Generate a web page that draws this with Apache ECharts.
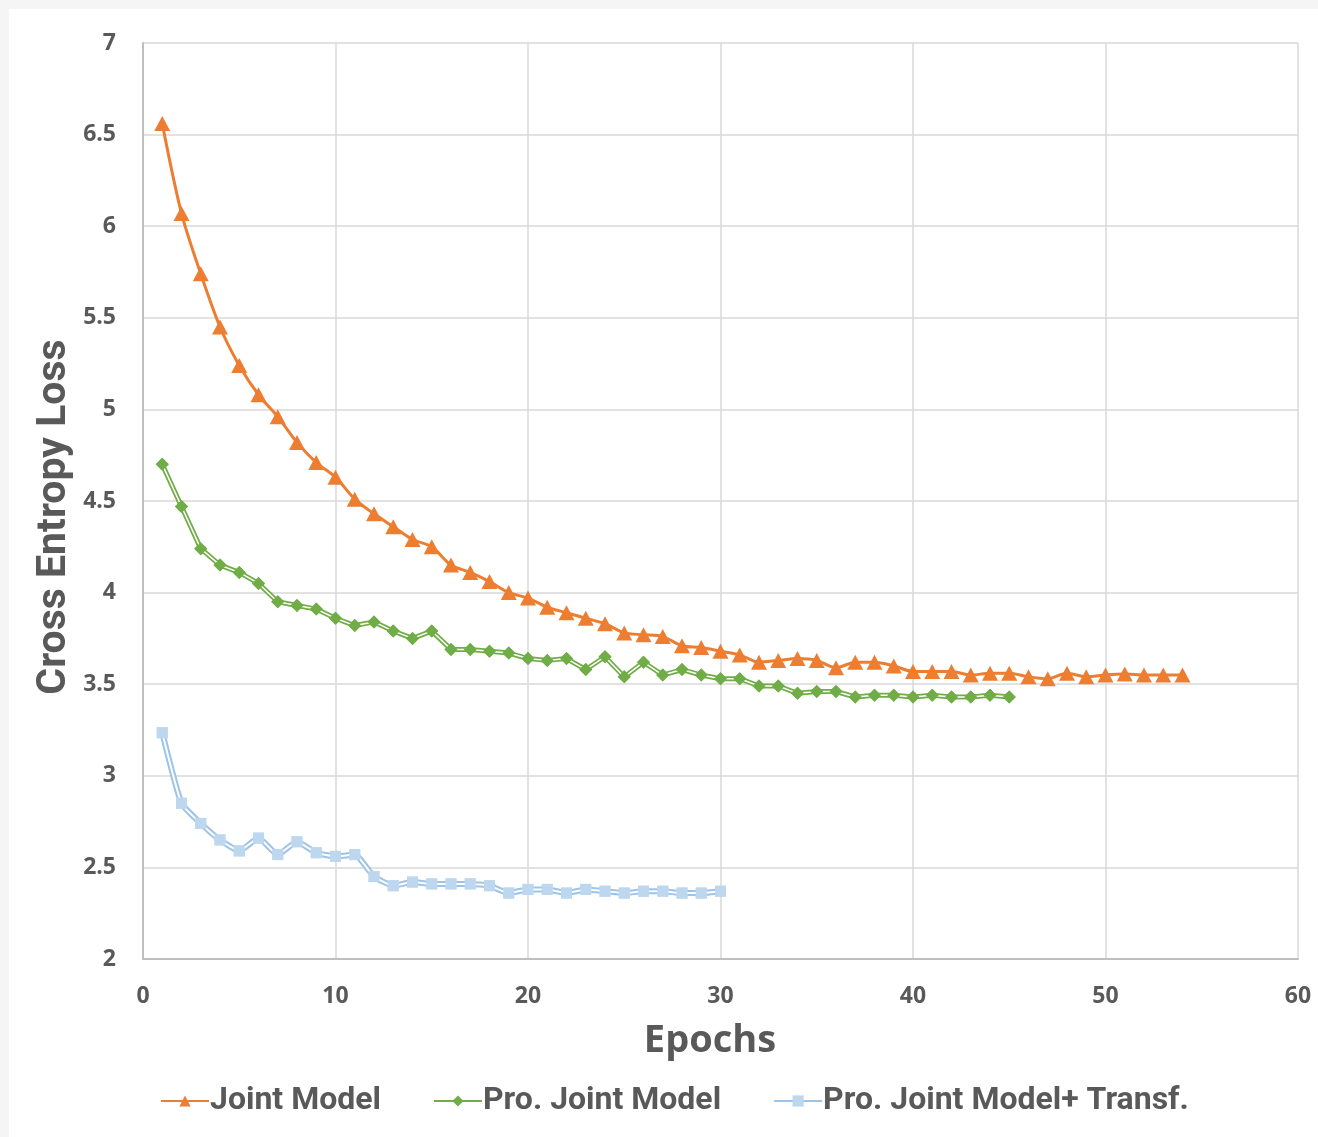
<!DOCTYPE html>
<html>
<head>
<meta charset="utf-8">
<script src="https://cdn.jsdelivr.net/npm/echarts@6/dist/echarts.min.js"></script>
<style>
html,body{margin:0;padding:0;background:#ffffff;}
#chart{width:1318px;height:1137px;}
</style>
</head>
<body>
<div id="chart"></div>
<script>
// ---- data ----
const jointEpochs = [1,2,3,4,5,6,7,8,9,10,11,12,13,14,15,16,17,18,19,20,21,22,23,24,25,26,27,28,29,30,31,32,33,34,35,36,37,38,39,40,41,42,43,44,45,46,47,48,49,50,51,52,53,54];
const jointLoss = [6.56,6.07,5.74,5.45,5.24,5.08,4.96,4.82,4.71,4.63,4.51,4.43,4.36,4.29,4.25,4.15,4.11,4.06,4.00,3.97,3.92,3.89,3.86,3.83,3.78,3.77,3.76,3.71,3.70,3.68,3.66,3.62,3.63,3.64,3.63,3.59,3.62,3.62,3.60,3.57,3.57,3.57,3.55,3.56,3.56,3.54,3.53,3.56,3.54,3.55,3.555,3.55,3.55,3.55];

const proEpochs = [1,2,3,4,5,6,7,8,9,10,11,12,13,14,15,16,17,18,19,20,21,22,23,24,25,26,27,28,29,30,31,32,33,34,35,36,37,38,39,40,41,42,43,44,45];
const proLoss = [4.70,4.47,4.24,4.15,4.11,4.05,3.95,3.93,3.91,3.86,3.82,3.84,3.79,3.75,3.79,3.69,3.69,3.68,3.67,3.64,3.63,3.64,3.58,3.65,3.54,3.62,3.55,3.58,3.55,3.53,3.53,3.49,3.49,3.45,3.46,3.46,3.43,3.44,3.44,3.43,3.44,3.43,3.43,3.44,3.43];

const transEpochs = [1,2,3,4,5,6,7,8,9,10,11,12,13,14,15,16,17,18,19,20,21,22,23,24,25,26,27,28,29,30];
const transLoss = [3.235,2.85,2.74,2.65,2.59,2.66,2.57,2.64,2.58,2.56,2.57,2.45,2.40,2.42,2.41,2.41,2.41,2.40,2.36,2.38,2.38,2.36,2.38,2.37,2.36,2.37,2.37,2.36,2.36,2.37];

const seriesNames = ['Joint Model','Pro. Joint Model','Pro. Joint Model+ Transf.'];
const xTicks = {min:0, max:60, interval:10};
const yTicks = {min:2, max:7, interval:0.5};

function pairs(xs, ys){ return xs.map((x,i)=>[x, ys[i]]); }

const ORANGE = '#ED7D31', GREEN = '#70AD47', BLUE_LINE = '#9DC3E6', BLUE_MARK = '#BDD7EE';
const TXT = '#595959';
const tickFont = '"Open Sans", sans-serif';
const narrowFont = 'Roboto, "Liberation Sans", sans-serif';

const chart = echarts.init(document.getElementById('chart'), null, {renderer:'canvas'});
chart.setOption({
  backgroundColor: '#ffffff',
  animation: false,
  grid: {left:143, right:20, top:43, bottom:178, containLabel:false},
  xAxis: {
    type:'value', min:xTicks.min, max:xTicks.max, interval:xTicks.interval,
    axisLine:{show:true, lineStyle:{color:'#bfbfbf', width:2}},
    axisTick:{show:false},
    axisLabel:{color:TXT, fontFamily:tickFont, fontWeight:'bold', fontSize:23, margin:26},
    splitLine:{show:true, lineStyle:{color:'#d9d9d9', width:1.5}}
  },
  yAxis: {
    type:'value', min:yTicks.min, max:yTicks.max, interval:yTicks.interval,
    axisLine:{show:true, lineStyle:{color:'#bfbfbf', width:2}},
    axisTick:{show:false},
    axisLabel:{color:TXT, fontFamily:tickFont, fontWeight:'bold', fontSize:23, margin:27},
    splitLine:{show:true, lineStyle:{color:'#d9d9d9', width:1.5}}
  },
  legend: {
    data: seriesNames,
    left: 155, top: 1080,
    itemWidth: 48, itemHeight: 14, itemGap: 52,
    textStyle:{color:TXT, fontFamily:narrowFont, fontWeight:'bold', fontSize:32, padding:[0,0,0,-4]}
  },
  graphic: [
    {type:'rect', shape:{x:0,y:0,width:1318,height:9}, style:{fill:'#f5f5f5'}, silent:true},
    {type:'rect', shape:{x:0,y:0,width:9,height:1137}, style:{fill:'#f5f5f5'}, silent:true},
    {type:'text', x:710, y:1041, style:{text:'Epochs', fill:TXT, font:'bold 38px "Open Sans", sans-serif', textAlign:'center', textVerticalAlign:'middle'}, silent:true},
    {type:'text', rotation:Math.PI/2, x:55, y:517, style:{text:'Cross Entropy Loss', fill:TXT, font:'bold 41px Roboto, "Liberation Sans", sans-serif', textAlign:'center', textVerticalAlign:'middle'}, silent:true}
  ],
  series: [
    {
      name: seriesNames[0], type:'line', data: pairs(jointEpochs, jointLoss),
      smooth: 0.3, symbol:'triangle', symbolSize:[16,15],
      lineStyle:{color:ORANGE, width:3}, itemStyle:{color:ORANGE}, z:3
    },
    {
      name: seriesNames[1], type:'line', data: pairs(proEpochs, proLoss),
      symbol:'diamond', symbolSize:13,
      lineStyle:{color:GREEN, width:5}, itemStyle:{color:GREEN}, z:2
    },
    {
      name: 'pro_inner', type:'line', data: pairs(proEpochs, proLoss),
      symbol:'diamond', symbolSize:13, silent:true,
      lineStyle:{color:'#ffffff', width:1.5}, itemStyle:{color:GREEN}, z:2.5
    },
    {
      name: seriesNames[2], type:'line', data: pairs(transEpochs, transLoss),
      smooth: 0.15, symbol:'rect', symbolSize:11,
      lineStyle:{color:BLUE_LINE, width:6}, itemStyle:{color:BLUE_MARK}, z:2
    },
    {
      name: 'trans_inner', type:'line', data: pairs(transEpochs, transLoss),
      smooth: 0.15, symbol:'rect', symbolSize:11, silent:true,
      lineStyle:{color:'#ffffff', width:2}, itemStyle:{color:BLUE_MARK}, z:2.5
    }
  ]
});
</script>
</body>
</html>
